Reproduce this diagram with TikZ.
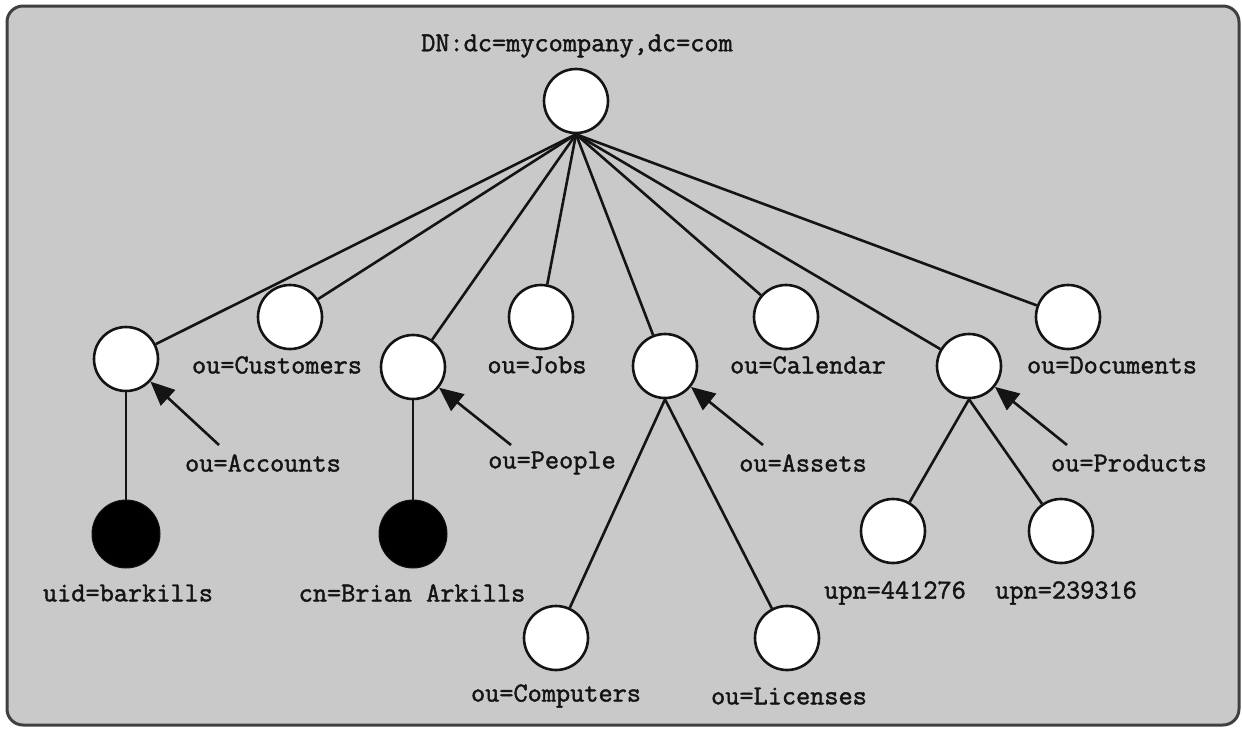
\documentclass[tikz,border=0pt]{standalone}
\usepackage{fontspec}
\newfontfamily\codefont{Latin Modern Mono}[FakeBold=1.6]
\usetikzlibrary{arrows.meta}
\definecolor{panel}{RGB}{201,201,201}
\definecolor{ink}{RGB}{20,20,20}
\tikzset{
  entry/.style={circle, draw=ink, fill=white, line width=2.6pt, minimum size=64pt, inner sep=0pt},
  leaf/.style={circle, draw=ink, fill=black, line width=1pt, minimum size=68pt, inner sep=0pt},
  lbl/.style={font=\codefont\fontsize{27.5}{30}\selectfont, text=ink, inner sep=0pt},
  edge/.style={draw=ink, line width=2.6pt},
  pointer/.style={draw=ink, line width=2.6pt, -{Triangle[length=24pt,width=21pt]}}
}
\begin{document}
\begin{tikzpicture}[x=1pt, y=-1pt]
\useasboundingbox (0,0) rectangle (1242,729);
% panel
\draw[rounded corners=16pt, line width=3pt, draw=black!75, fill=panel] (7,6) rectangle (1239,725);

% directory entries
\node[entry] (root) at (576,101) {};
\node[entry] (acc)  at (126,359) {};
\node[entry] (cust) at (290,317) {};
\node[entry] (peop) at (413,367) {};
\node[entry] (jobs) at (541,317) {};
\node[entry] (asst) at (665,366) {};
\node[entry] (cal)  at (786,317) {};
\node[entry] (prod) at (969,366) {};
\node[entry] (doc)  at (1068,317) {};
\node[leaf]  (uid)  at (126,534) {};
\node[leaf]  (cn)   at (413,534) {};
\node[entry] (comp) at (556,638) {};
\node[entry] (lic)  at (787,638) {};
\node[entry] (upa)  at (893,531) {};
\node[entry] (upb)  at (1061,531) {};

% tree edges
\foreach \c in {acc,cust,peop,jobs,asst,cal,prod,doc}
  \draw[edge] (root.south) -- (\c);
\draw[edge] (acc.south) -- (uid);
\draw[edge] (peop.south) -- (cn);
\draw[edge] (asst.south) -- (comp);
\draw[edge] (asst.south) -- (lic);
\draw[edge] (prod.south) -- (upa);
\draw[edge] (prod.south) -- (upb);

% labels
\node[lbl] (tRoot) at (577,46)  {DN:dc=mycompany,dc=com};
\node[lbl] (tCust) at (277,365) {ou=Customers};
\node[lbl] (tJobs) at (537,365) {ou=Jobs};
\node[lbl] (tCal)  at (808,365) {ou=Calendar};
\node[lbl] (tDoc)  at (1112,365) {ou=Documents};
\node[lbl] (tAcc)  at (263,463) {ou=Accounts};
\node[lbl] (tPeop) at (552,463) {ou=People};
\node[lbl] (tAsst) at (803,463) {ou=Assets};
\node[lbl] (tProd) at (1129,463) {ou=Products};
\node[lbl] (tUid)  at (128,593) {uid=barkills};
\node[lbl] (tCn)   at (412,593) {cn=Brian Arkills};
\node[lbl] (tUpa)  at (895,593) {upn=441276};
\node[lbl] (tUpb)  at (1066,593) {upn=239316};
\node[lbl] (tComp) at (556,696) {ou=Computers};
\node[lbl] (tLic)  at (789,696) {ou=Licenses};

% pointers from names to entries
\coordinate (pAcc)  at (219,445);
\coordinate (pPeop) at (511,445);
\coordinate (pAsst) at (763,445);
\coordinate (pProd) at (1067,445);
\draw[pointer] (pAcc)  -- (acc);
\draw[pointer] (pPeop) -- (peop);
\draw[pointer] (pAsst) -- (asst);
\draw[pointer] (pProd) -- (prod);
\end{tikzpicture}
\end{document}
